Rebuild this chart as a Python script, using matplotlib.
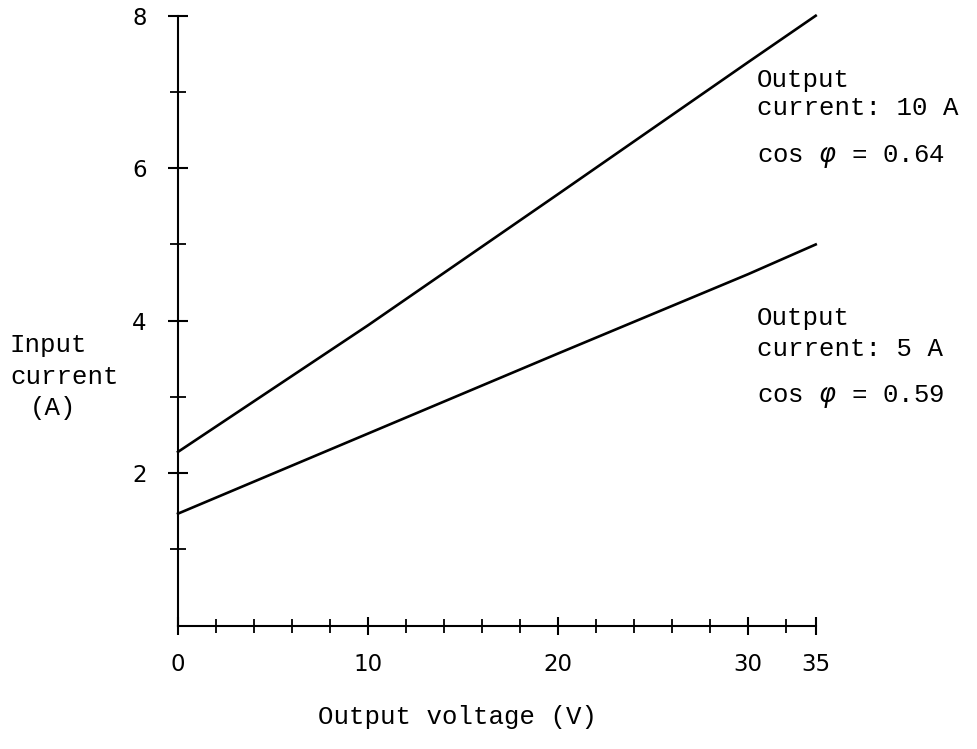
import numpy as np
import matplotlib
matplotlib.use("Agg")
import matplotlib.pyplot as plt
from matplotlib.ticker import FixedLocator

voltage = [0, 10, 20, 30, 35]
current_10a = [2.28, 3.94, 5.66, 7.39, 8.0]
current_5a = [1.47, 2.52, 3.57, 4.61, 5.0]

x_major = [0, 10, 20, 30, 35]
x_minor = [2, 4, 6, 8, 12, 14, 16, 18, 22, 24, 26, 28, 32]
y_major = [2, 4, 6, 8]
y_minor = [1, 3, 5, 7]

MONO = "Liberation Mono"


# the hand drawn axis squeezes the last stretch (32..35)
def fwd(x):
    x = np.asarray(x, dtype=float)
    return np.where(x <= 32, x, 32 + (x - 32) * 0.52)


def inv(y):
    y = np.asarray(y, dtype=float)
    return np.where(y <= 32, y, 32 + (y - 32) / 0.52)


fig = plt.figure(figsize=(9.77, 7.49), dpi=100)
ax = fig.add_axes([0.1822, 0.1646, 0.8349 - 0.1822, 0.979 - 0.1646])
ax.set_xscale("function", functions=(fwd, inv))

ax.plot(voltage, current_10a, color="black", lw=1.9, clip_on=False)
ax.plot(voltage, current_5a, color="black", lw=1.9, clip_on=False)

ax.set_xlim(0, 35)
ax.set_ylim(0, 8)

for s in ("top", "right"):
    ax.spines[s].set_visible(False)
for s in ("left", "bottom"):
    ax.spines[s].set_linewidth(1.5)

ax.xaxis.set_major_locator(FixedLocator(x_major))
ax.xaxis.set_minor_locator(FixedLocator(x_minor))
ax.yaxis.set_major_locator(FixedLocator(y_major))
ax.yaxis.set_minor_locator(FixedLocator(y_minor))
ax.set_xticklabels([str(v) for v in x_major], fontweight="medium")
ax.set_yticklabels([str(v) for v in y_major], fontweight="medium")

ax.tick_params(axis="x", which="major", direction="inout", length=13, width=1.5,
               pad=13, labelsize=16.5)
ax.tick_params(axis="x", which="minor", direction="inout", length=10, width=1.3)
ax.tick_params(axis="y", which="major", direction="inout", length=15, width=1.5,
               pad=15, labelsize=16.5)
ax.tick_params(axis="y", which="minor", direction="inout", length=12, width=1.3)
for t in ax.xaxis.get_major_ticks() + ax.yaxis.get_major_ticks():
    t.tick1line.set_clip_on(False)

# left label
fig.text(10 / 977, 1 - 345 / 749, "Input", family=MONO, fontsize=18.5, va="center")
fig.text(10 / 977, 1 - 377 / 749, "current", family=MONO, fontsize=18.5, va="center")
fig.text(30 / 977, 1 - 408 / 749, "(A)", family=MONO, fontsize=18.5, va="center")

# bottom label
fig.text(458 / 977, 1 - 717 / 749, "Output voltage (V)", family=MONO, fontsize=18.5,
         ha="center", va="center")

# annotations beside the curves
notes = [
    (80, "Output"), (108, "current: 10 A"), (157, "cos $\\varphi$ = 0.64"),
    (318, "Output"), (349, "current: 5 A"), (397, "cos $\\varphi$ = 0.59"),
]
for ypix, txt in notes:
    fig.text(757 / 977, 1 - ypix / 749, txt, family=MONO, fontsize=18.5, va="center")

fig.savefig("out.png", dpi=100)
